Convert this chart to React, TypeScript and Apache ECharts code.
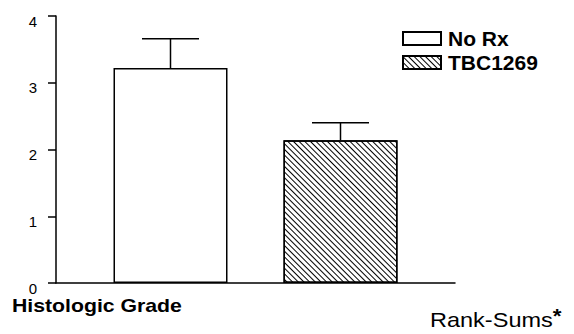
import React, { useEffect, useRef } from "react";
import * as echarts from "echarts";

const categories = ["Histologic Grade"];
const groupNames = ["No Rx", "TBC1269"];
const means = [3.22, 2.14];
const upperErrors = [3.66, 2.4];
const yTicks = [0, 1, 2, 3, 4];

const BAR_WIDTH = 114;
const BAR_GAP_PX = 56;
const FONT = "'Liberation Sans', Arial, Helvetica, sans-serif";

export default function App() {
  const ref = useRef<HTMLDivElement>(null);

  useEffect(() => {
    document.body.style.margin = "0";
    if (!ref.current) return;
    const chart = echarts.init(ref.current, null, { renderer: "svg" });

    const hatch = {
      symbol: "rect",
      symbolSize: 1,
      dashArrayX: [[1, 0]],
      dashArrayY: [1, 2.1],
      rotation: Math.PI / 4,
      color: "#000",
      backgroundColor: "#fff",
    };

    const option: any = {
      animation: false,
      backgroundColor: "#fff",
      textStyle: { fontFamily: FONT },
      grid: { left: 56, right: 119, top: 16, bottom: 51, containLabel: false },
      legend: {
        data: groupNames,
        icon: "rect",
        orient: "vertical",
        left: 402,
        top: 28,
        padding: 0,
        itemWidth: 38,
        itemHeight: 13,
        itemGap: 3,
        selectedMode: false,
        textStyle: {
          fontFamily: FONT,
          fontWeight: "bold",
          fontSize: 21,
          lineHeight: 20,
          color: "#000",
          padding: [0, 0, 0, 2],
        },
      },
      xAxis: {
        type: "category",
        data: categories,
        axisLine: { show: true, lineStyle: { color: "#000", width: 1.5 } },
        axisTick: { show: false },
        axisLabel: { show: false },
        splitLine: { show: false },
      },
      yAxis: {
        type: "value",
        min: yTicks[0],
        max: yTicks[yTicks.length - 1],
        interval: 1,
        axisLine: { show: true, lineStyle: { color: "#000", width: 1.5 } },
        axisTick: { show: true, length: 8, lineStyle: { color: "#000", width: 1.5 } },
        axisLabel: {
          color: "#000",
          fontFamily: FONT,
          fontSize: 15,
          margin: 19,
          verticalAlign: "top",
          lineHeight: 10,
        },
        splitLine: { show: false },
      },
      series: [
        {
          name: groupNames[0],
          type: "bar",
          data: [means[0]],
          barWidth: BAR_WIDTH,
          barGap: `${(BAR_GAP_PX / BAR_WIDTH) * 100}%`,
          itemStyle: { color: "#fff", borderColor: "#000", borderWidth: 1.5 },
        },
        {
          name: groupNames[1],
          type: "bar",
          data: [means[1]],
          barWidth: BAR_WIDTH,
          itemStyle: { color: "#fff", borderColor: "#000", borderWidth: 1.5, decal: hatch },
        },
        {
          name: "error",
          type: "custom",
          encode: { x: 0, y: [1, 2] },
          data: means.map((m, i) => [0, m, upperErrors[i], i]),
          z: 3,
          renderItem: (params: any, api: any) => {
            const mean = api.value(1);
            const upper = api.value(2);
            const gi = api.value(3);
            const base = api.coord([0, mean]);
            const top = api.coord([0, upper]);
            const x = base[0] + (gi - 0.5) * (BAR_WIDTH + BAR_GAP_PX);
            const half = BAR_WIDTH / 4;
            const style = { stroke: "#000", lineWidth: 1.5 };
            return {
              type: "group",
              children: [
                { type: "line", shape: { x1: x, y1: base[1], x2: x, y2: top[1] }, style },
                { type: "line", shape: { x1: x - half, y1: top[1], x2: x + half, y2: top[1] }, style },
              ],
            };
          },
        },
      ],
      graphic: [
        {
          type: "text",
          x: 12,
          y: 306,
          scaleX: 1.18,
          style: {
            text: "Histologic Grade",
            fontFamily: FONT,
            fontWeight: "bold",
            fontSize: 18,
            fill: "#000",
            verticalAlign: "middle",
            align: "left",
          },
        },
        {
          type: "text",
          x: 430,
          y: 320,
          scaleX: 1.12,
          style: {
            text: "{a|Rank-Sums}{b|*}",
            verticalAlign: "middle",
            align: "left",
            rich: {
              a: { fontFamily: FONT, fontSize: 21, color: "#000" },
              b: {
                fontFamily: FONT,
                fontSize: 20,
                fontWeight: "bold",
                color: "#000",
                padding: [0, 0, 8, 0],
              },
            },
          },
        },
      ],
    };

    chart.setOption(option);
    return () => chart.dispose();
  }, []);

  return <div ref={ref} style={{ width: 574, height: 334 }} />;
}
